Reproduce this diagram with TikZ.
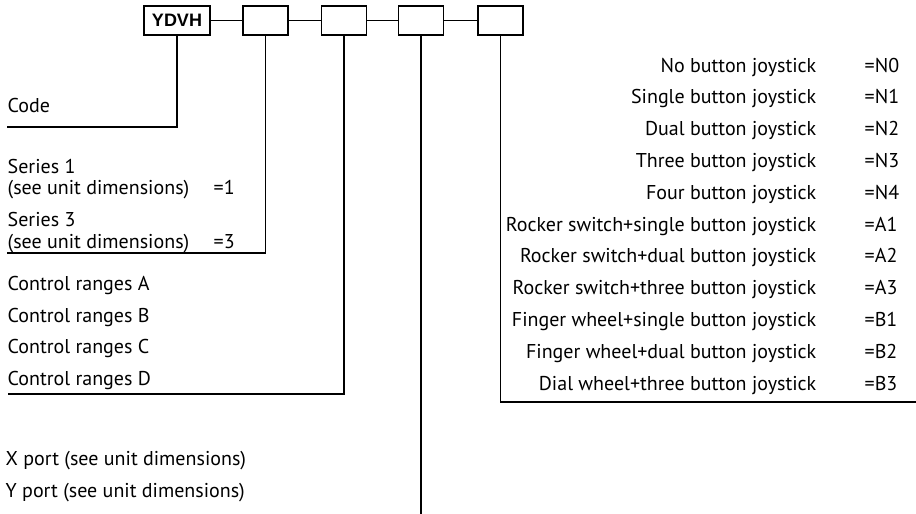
\documentclass[tikz,border=0pt]{standalone}
\usepackage{fontspec}
\setmainfont{PT Sans}
\newfontfamily\codefont{Liberation Sans}

\begin{document}
\begin{tikzpicture}[x=1pt,y=-1pt,line width=1.4pt,
    box/.style={draw,minimum height=29pt,inner sep=0pt},
    lbl/.style={inner sep=0pt,anchor=base west,font=\fontsize{20}{24}\selectfont},
    opt/.style={inner sep=0pt,anchor=base east,font=\fontsize{20}{24}\selectfont}]
    \useasboundingbox (0,0) rectangle (916,514);
    \node[box,minimum width=66pt,font=\codefont\bfseries\fontsize{18}{20}\selectfont] (b0) at (177,20.5) {YDVH};
    \node[box,minimum width=45pt] (b1) at (265.5,20.5) {};
    \node[box,minimum width=45pt] (b2) at (344,20.5) {};
    \node[box,minimum width=45pt] (b3) at (421,20.5) {};
    \node[box,minimum width=45pt] (b4) at (500.5,20.5) {};
    \draw (b0) -- (b1);
    \draw (b1) -- (b2);
    \draw (b2) -- (b3);
    \draw (b3) -- (b4);
    \coordinate (c0) at (7,127);
    \coordinate (c1) at (7,253);
    \coordinate (c2) at (8,394);
    \coordinate (c3) at (421,514);
    \coordinate (c4) at (916,402);
    \draw (b0.south) |- (c0);
    \draw (b1.south) |- (c1);
    \draw (b2.south) |- (c2);
    \draw (b3.south) -- (c3);
    \draw (b4.south) |- (c4);
    \node[lbl] (code) at (7,112) {Code};
    \node[lbl] (ser1) at (7,173) {Series 1};
    \node[lbl] (ser1d) at (7,194) {(see unit dimensions)};
    \node[lbl] (ser1v) at (213,194) {=1};
    \node[lbl] (ser3) at (7,226) {Series 3};
    \node[lbl] (ser3d) at (7,248) {(see unit dimensions)};
    \node[lbl] (ser3v) at (213,248) {=3};
    \node[lbl] (rngA) at (7,290) {Control ranges A};
    \node[lbl] (rngB) at (7,322) {Control ranges B};
    \node[lbl] (rngC) at (7,353) {Control ranges C};
    \node[lbl] (rngD) at (7,385) {Control ranges D};
    \node[lbl] (portX) at (5,465) {X port (see unit dimensions)};
    \node[lbl] (portY) at (5,497) {Y port (see unit dimensions)};
    \node[opt] (jN0) at (817,72) {No button joystick};
    \node[opt] (jN1) at (817,103.8) {Single button joystick};
    \node[opt] (jN2) at (817,135.6) {Dual button joystick};
    \node[opt] (jN3) at (817,167.4) {Three button joystick};
    \node[opt] (jN4) at (817,199.2) {Four button joystick};
    \node[opt] (jA1) at (817,231) {Rocker switch+single button joystick};
    \node[opt] (jA2) at (817,262.8) {Rocker switch+dual button joystick};
    \node[opt] (jA3) at (817,294.6) {Rocker switch+three button joystick};
    \node[opt] (jB1) at (817,326.4) {Finger wheel+single button joystick};
    \node[opt] (jB2) at (817,358.2) {Finger wheel+dual button joystick};
    \node[opt] (jB3) at (817,390) {Dial wheel+three button joystick};
    \node[lbl] (vN0) at (864,72) {=N0};
    \node[lbl] (vN1) at (864,103.8) {=N1};
    \node[lbl] (vN2) at (864,135.6) {=N2};
    \node[lbl] (vN3) at (864,167.4) {=N3};
    \node[lbl] (vN4) at (864,199.2) {=N4};
    \node[lbl] (vA1) at (864,231) {=A1};
    \node[lbl] (vA2) at (864,262.8) {=A2};
    \node[lbl] (vA3) at (864,294.6) {=A3};
    \node[lbl] (vB1) at (864,326.4) {=B1};
    \node[lbl] (vB2) at (864,358.2) {=B2};
    \node[lbl] (vB3) at (864,390) {=B3};
\end{tikzpicture}
\end{document}
